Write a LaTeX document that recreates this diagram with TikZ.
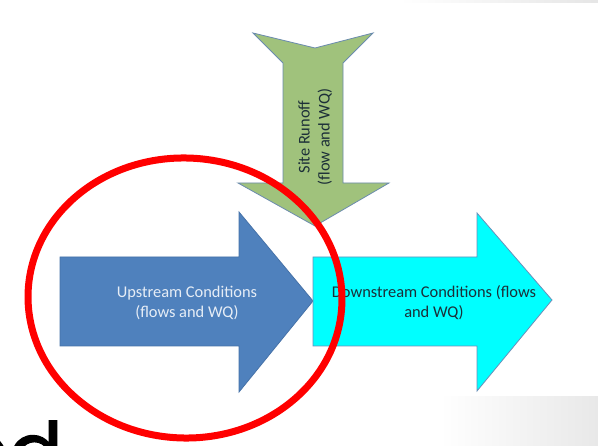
\documentclass[tikz,border=0pt]{standalone}
\usepackage{fontspec}
\setmainfont{Carlito}
\newfontfamily\headfont[FakeBold=1.6]{Poppins}
\definecolor{upblue}{HTML}{4F81BD}
\definecolor{upedge}{HTML}{4672A8}
\definecolor{runoffgreen}{HTML}{A0C27C}
\definecolor{shapeedge}{HTML}{6B8BAE}
\definecolor{downcyan}{HTML}{00FFFF}
\definecolor{darktext}{HTML}{1C2F38}
\definecolor{uptext}{HTML}{E6EDF6}
\definecolor{circlered}{HTML}{FF0000}
\tikzset{
  arrowbody/.style={line width=0.8pt, line join=miter},
  label15/.style={font=\fontsize{16.4}{20}\selectfont, align=center, inner sep=0pt},
}
\begin{document}
\begin{tikzpicture}[x=1pt, y=-1pt]
\useasboundingbox (0,0) rectangle (598,446);
\fill[white] (0,0) rectangle (598,446);

% faint slide background bands
\shade[left color=white, right color=black!10] (400,0) rectangle (598,3);
\shade[left color=white, right color=black!9] (440,397) rectangle (598,446);

% slide title fragment, cut by the frame
\begin{scope}
  \clip (0,0) rectangle (598,446);
  \node[anchor=base east, inner sep=0pt, font=\headfont\fontsize{80}{80}\selectfont] (title) at (63,480) {ed};
\end{scope}

% upstream arrow
\filldraw[arrowbody, fill=upblue, draw=upedge]
  (60,257) -- (239,257) -- (239,212) -- (313,301) -- (239,392) -- (239,346) -- (60,346) -- cycle;
\node[label15, text=uptext] (up) at (187,303) {Upstream Conditions\\(flows and WQ)};

% downstream arrow
\filldraw[arrowbody, fill=downcyan, draw=upedge!80]
  (313,257) -- (477,257) -- (477,213) -- (552,300) -- (477,391) -- (477,346) -- (313,346) -- cycle;
\node[label15, text=darktext] (down) at (434,303) {Downstream Conditions (flows\\and WQ)};

% site runoff arrow, pointing down
\filldraw[arrowbody, fill=runoffgreen, draw=shapeedge]
  (253,33) -- (315,48) -- (373,33) -- (343,63) -- (343,183) -- (389,183) -- (315,226)
  -- (238,183) -- (283,183) -- (283,63) -- cycle;
\node[label15, text=darktext, rotate=90] (runoff) at (315,137) {Site Runoff\\(flow and WQ)};

% red highlight ring
\draw[circlered, line width=7pt, rotate around={-2:(185,298)}]
  (185,298) ellipse [x radius=157pt, y radius=140pt];
\end{tikzpicture}
\end{document}
